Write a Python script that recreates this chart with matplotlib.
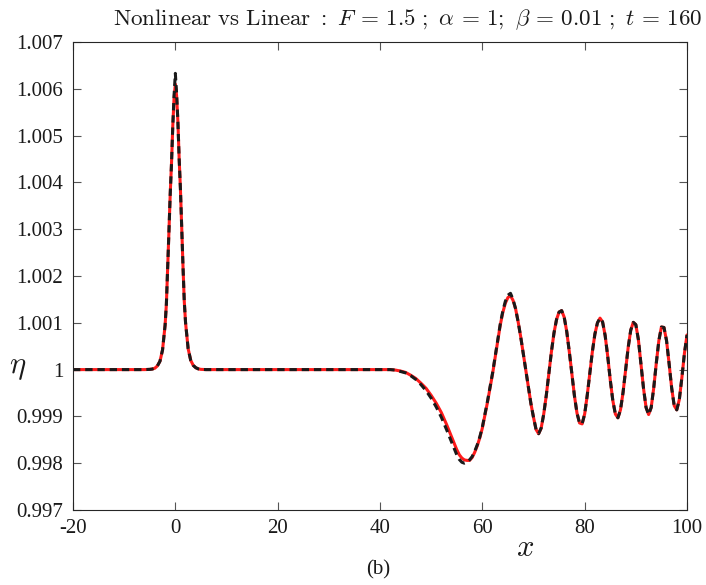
import matplotlib
matplotlib.use("Agg")
import matplotlib.pyplot as plt
import numpy as np

plt.rcParams['mathtext.fontset'] = 'cm'
plt.rcParams['font.family'] = ['Liberation Serif', 'DejaVu Serif']

# x positions
x_vals = [-20, -6, -5, -4.5, -4, -3.5, -3, -2.5, -2, -1.75, -1.5, -1.25, -1, -0.75, -0.5,
          -0.25, 0, 0.25, 0.5, 0.75, 1, 1.25, 1.5, 1.75, 2, 2.5, 3, 3.5, 4, 4.5, 5, 6,
          20, 40, 41, 42, 43, 44, 45, 46, 47, 48, 49, 50, 51, 52, 53,
          54, 54.5, 55, 55.5, 56, 56.5, 57, 57.5, 58, 58.5, 59, 59.5, 60, 60.5, 61, 61.5,
          62, 62.5, 63, 63.5, 64, 64.5, 65, 65.5, 66, 66.5, 67, 67.5, 68, 68.5, 69, 69.5,
          70, 70.5, 71, 71.5, 72, 72.5, 73, 73.5, 74, 74.5, 75, 75.5, 76, 76.5, 77, 77.5,
          78, 78.5, 79, 79.5, 80, 80.5, 81, 81.5, 82, 82.5, 83, 83.5, 84, 84.5, 85, 85.5,
          86, 86.5, 87, 87.5, 88, 88.5, 89, 89.5, 90, 90.5, 91, 91.5, 92, 92.5, 93, 93.5,
          94, 94.5, 95, 95.5, 96, 96.5, 97, 97.5, 98, 98.5, 99, 99.5, 100]

# deviation of eta from 1, in units of 1e-3 (linear solution, red)
lin_dev = [0, 0, 0.005, 0.012, 0.03, 0.08, 0.18, 0.42, 0.95, 1.40, 2.15, 2.95, 3.75, 4.4, 5.2,
           5.8, 6.1, 5.85, 5.3, 4.5, 3.85, 3.0, 2.2, 1.45, 1.0, 0.45, 0.2, 0.09, 0.04, 0.015, 0.005, 0,
           0, 0, 0, 0, -0.01, -0.03, -0.06, -0.12, -0.19, -0.29, -0.40, -0.55, -0.72, -0.92, -1.17,
           -1.44, -1.58, -1.71, -1.82, -1.89, -1.93, -1.94, -1.94, -1.88, -1.77, -1.63, -1.46, -1.25, -0.98, -0.70, -0.40,
           -0.09, 0.26, 0.62, 0.95, 1.22, 1.42, 1.54, 1.58, 1.48, 1.30, 1.02, 0.70, 0.34, -0.03, -0.38, -0.73,
           -1.02, -1.28, -1.37, -1.25, -0.95, -0.55, -0.08, 0.38, 0.78, 1.07, 1.23, 1.26, 1.12, 0.81, 0.38, -0.10,
           -0.56, -0.93, -1.14, -1.16, -0.95, -0.55, -0.08, 0.38, 0.76, 1.00, 1.10, 1.02, 0.73, 0.29, -0.22, -0.66,
           -0.95, -1.03, -0.86, -0.49, -0.01, 0.47, 0.84, 1.01, 0.96, 0.64, 0.13, -0.40, -0.81, -0.96, -0.81, -0.39,
           0.14, 0.62, 0.91, 0.90, 0.62, 0.13, -0.39, -0.77, -0.86, -0.64, -0.17, 0.35, 0.74]

# deviation of eta from 1, in units of 1e-3 (nonlinear solution, black dashed)
nl_dev = [0, 0, 0.005, 0.012, 0.03, 0.08, 0.18, 0.42, 0.95, 1.40, 2.15, 2.95, 3.75, 4.4, 5.2,
          5.85, 6.33, 5.9, 5.3, 4.5, 3.85, 3.0, 2.2, 1.45, 1.0, 0.45, 0.2, 0.09, 0.04, 0.015, 0.005, 0,
          0, 0, 0, 0, -0.01, -0.04, -0.07, -0.13, -0.21, -0.32, -0.45, -0.61, -0.80, -1.02, -1.28,
          -1.55, -1.69, -1.82, -1.92, -1.98, -2.00, -1.98, -1.93, -1.86, -1.75, -1.61, -1.44, -1.23, -0.96, -0.68, -0.38,
          -0.07, 0.28, 0.64, 0.97, 1.25, 1.46, 1.59, 1.63, 1.50, 1.30, 1.02, 0.70, 0.34, -0.03, -0.38, -0.73,
          -1.02, -1.28, -1.37, -1.25, -0.95, -0.55, -0.08, 0.38, 0.78, 1.07, 1.23, 1.26, 1.12, 0.81, 0.38, -0.10,
          -0.56, -0.93, -1.14, -1.16, -0.95, -0.55, -0.08, 0.38, 0.76, 1.00, 1.10, 1.02, 0.73, 0.29, -0.22, -0.66,
          -0.95, -1.03, -0.86, -0.49, -0.01, 0.47, 0.84, 1.01, 0.96, 0.64, 0.13, -0.40, -0.81, -0.96, -0.81, -0.39,
          0.14, 0.62, 0.91, 0.90, 0.62, 0.13, -0.39, -0.77, -0.86, -0.64, -0.17, 0.35, 0.74]

x_ticks = [-20, 0, 20, 40, 60, 80, 100]
x_tick_labels = ['-20', '0', '20', '40', '60', '80', '100']
y_ticks = [0.997, 0.998, 0.999, 1.0, 1.001, 1.002, 1.003, 1.004, 1.005, 1.006, 1.007]
y_tick_labels = ['0.997', '0.998', '0.999', '1', '1.001', '1.002', '1.003', '1.004', '1.005', '1.006', '1.007']

x = np.array(x_vals)
eta_lin = 1 + np.array(lin_dev) * 1e-3
eta_nl = 1 + np.array(nl_dev) * 1e-3

fig = plt.figure(figsize=(7.06, 5.85), dpi=100)
ax = fig.add_axes([73/706, 1 - 510/585, (687 - 73)/706, (510 - 42)/585])

ax.plot(x, eta_lin, color='#ff1a1a', lw=2.2, solid_capstyle='round')
ax.plot(x, eta_nl, color='#1a1a1a', lw=2.2, dashes=(2.4, 1.6))

ax.set_xlim(-20, 100)
ax.set_ylim(0.997, 1.007)
ax.set_xticks(x_ticks)
ax.set_xticklabels(x_tick_labels)
ax.set_yticks(y_ticks)
ax.set_yticklabels(y_tick_labels)

axis_col = '#262626'
for s in ax.spines.values():
    s.set_color(axis_col)
    s.set_linewidth(0.8)
ax.tick_params(direction='in', length=6, width=0.8, color='#555555', labelcolor='#1a1a1a',
               labelsize=15, top=True, right=True)
ax.tick_params(axis='x', pad=6.5)
ax.tick_params(axis='y', pad=7)

ax.text(0.545, 1.022, r'$\mathrm{Nonlinear\ vs\ Linear\ :}\ F\,=\,1.5\ ;\ \alpha\,=\,1;\ \beta\,=\,0.01\ ;\ t\,=\,160$',
        transform=ax.transAxes, ha='center', va='bottom', fontsize=16.6, color='#1a1a1a')
fig.text(18/706, 1 - 368/585, r'$\eta$', ha='center', va='center', fontsize=22, color='#1a1a1a')
fig.text(525/706, 1 - 549/585, r'$x$', ha='center', va='center', fontsize=22, color='#1a1a1a')
fig.text(378/706, 1 - 570/585, '(b)', ha='center', va='center', fontsize=15, color='#1a1a1a')

fig.savefig('out.png', dpi=100)
